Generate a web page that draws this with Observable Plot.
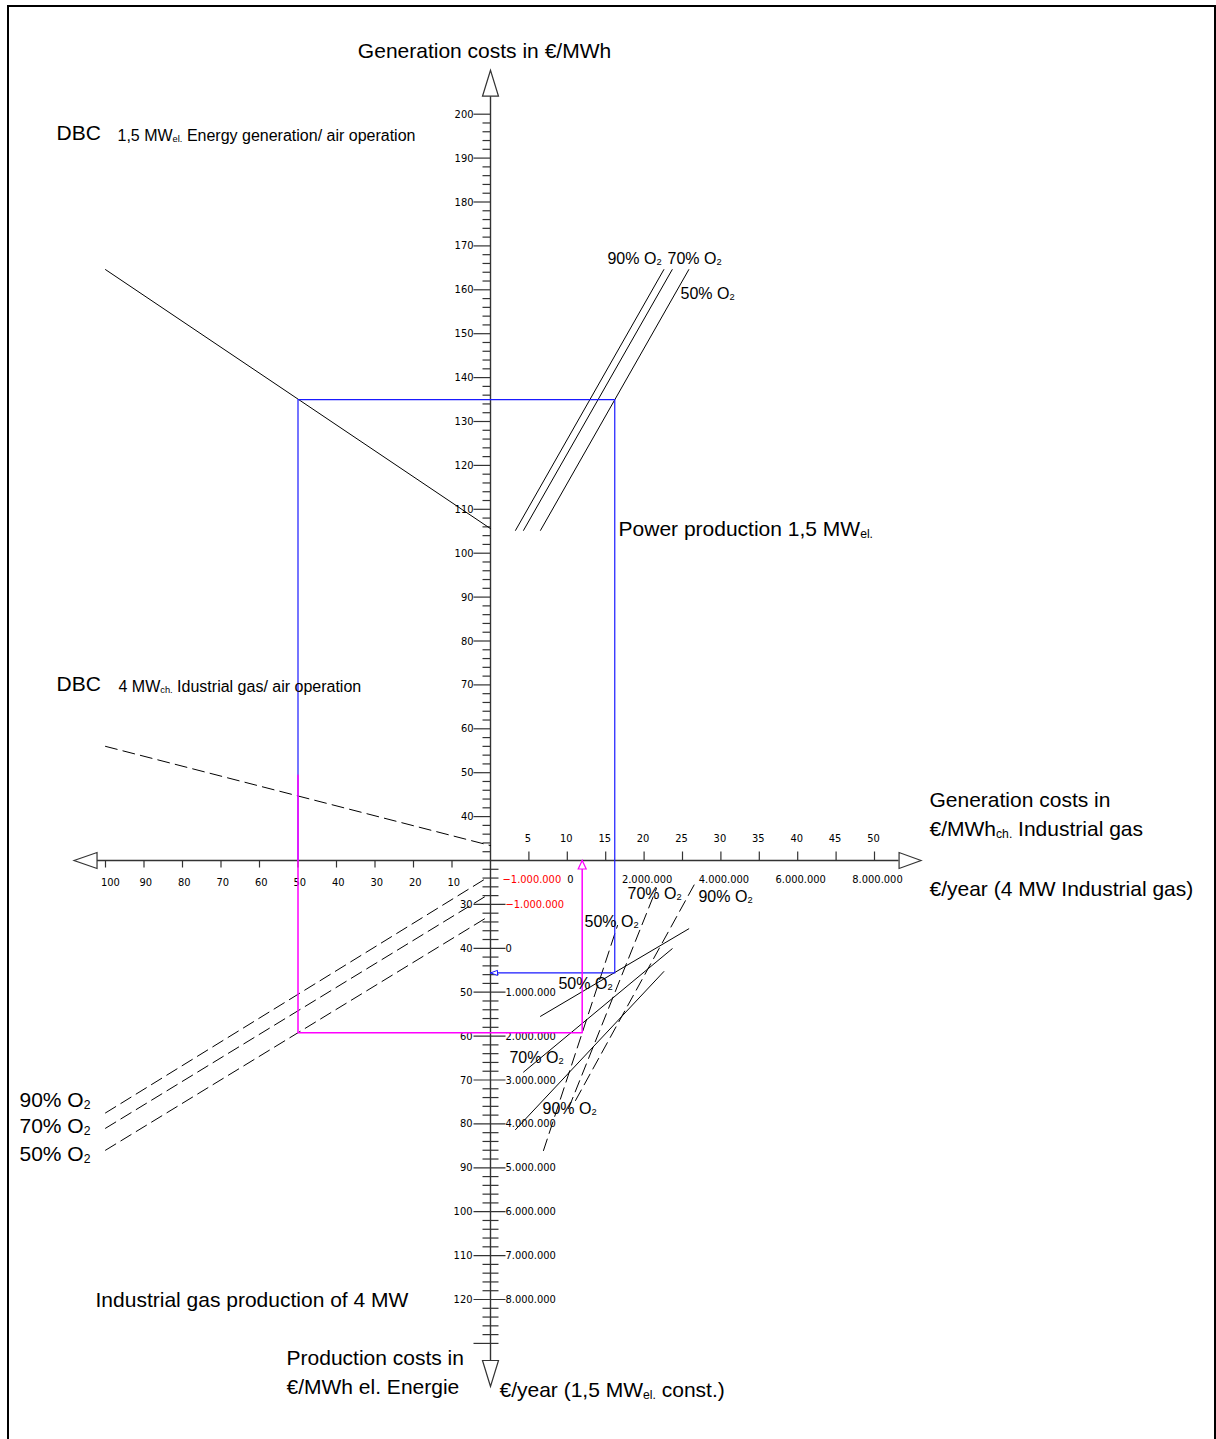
<!DOCTYPE html>
<html>
<head>
<meta charset="utf-8">
<script src="https://cdn.jsdelivr.net/npm/d3@7"></script>
<script src="https://cdn.jsdelivr.net/npm/@observablehq/plot@0.6"></script>
<style>
html, body { margin: 0; padding: 0; background: #fff; overflow: hidden; }
#wrap { position: relative; width: 1216px; height: 1439px; overflow: hidden; }
#border { position: absolute; left: 7px; top: 5px; width: 1205px; height: 1480px; border: 2px solid #000; border-bottom: none; pointer-events: none; }
</style>
</head>
<body>
<div id="wrap"><div id="border"></div></div>
<script>
// ---------------- DATA ----------------
// Left horizontal axis (shared by upper-left and lower-left quadrants)
const leftAxisTicks = [10, 20, 30, 40, 50, 60, 70, 80, 90, 100];
// Right horizontal axis: generation costs in €/MWh ch. (industrial gas)
const gasCostTicks = [5, 10, 15, 20, 25, 30, 35, 40, 45, 50];
// €/year (4 MW industrial gas), million €
const gasYearLabels = [-1, 0, 2, 4, 6, 8];
// Upper vertical axis: generation costs in €/MWh
const genCostLabels = [40, 50, 60, 70, 80, 90, 100, 110, 120, 130, 140, 150, 160, 170, 180, 190, 200];
const genCostTicks = d3.range(32, 201, 2);
// Lower vertical axis: production costs in €/MWh el. energy
const prodCostLabels = [30, 40, 50, 60, 70, 80, 90, 100, 110, 120];
const prodCostTicks = d3.range(22, 131, 2);
// €/year (1,5 MW el. const.), million €
const powerYearLabels = [-1, 0, 1, 2, 3, 4, 5, 6, 7, 8];

// DBC lines (left axis value -> generation cost €/MWh)
const dbcPowerLeft = [100, 0];
const dbcPowerCost = [164.6, 105.6];
const dbcGasLeft = [100, 0];
const dbcGasCost = [56.0, 33.4];

const o2Levels = ["90% O2", "70% O2", "50% O2"];
// Upper right: gas cost (€/MWh ch.) vs generation cost (€/MWh)
const upperO2GasCost = [[3.26, 22.57], [4.3, 23.66], [6.51, 25.82]];
const upperO2GenCost = [[105.2, 164.6], [105.2, 164.6], [105.2, 164.6]];
// Lower right, solid (power): gas cost vs production cost
const lowerSolidGasCost = [[3.26, 22.57], [4.3, 23.66], [6.51, 25.82]];
const lowerSolidProdCost = [[81.3, 45.3], [68.2, 40.1], [55.5, 35.56]];
// Lower right, dashed (industrial gas)
const lowerDashGasCost = [[11.07, 26.69], [10.16, 21.61], [6.9, 16.54]];
const lowerDashProdCost = [[74.67, 25.0], [76.5, 26.38], [86.06, 34.8]];
// Lower left, dashed: left axis value vs production cost
const lowerLeftLeft = [[100, 1], [100, 1], [100, 1]];
const lowerLeftProdCost = [[77.5, 24], [81, 28], [86, 33]];

// Example reading paths
const bluePath = { left: 50, genCost: 135, gasCost: 16.18, prodCost: 45.6 };
const magentaPath = { left: 50, genCost: 49.4, prodCost: 59.25, gasCost: 11.94 };

// ---------------- FRAME / TRANSFORMS ----------------
const W = 1216, H = 1439;
const origin = [490, 860];         // where the two main axes cross
const pxPerX = 7.68, pxPerY = 4.39; // unit sizes of the right and upper scales
const axisY = 30;                   // upper-scale value at the horizontal axis
const xDomain = [-origin[0] / pxPerX, (W - origin[0]) / pxPerX];
const yDomain = [axisY - (H - origin[1]) / pxPerY, axisY + origin[1] / pxPerY];

const leftToX = L => -L * 3.85 / pxPerX;
const lowerToY = w => 50 - w;
const powerEuroToLower = v => 40 + 10 * v;
const gasEuroToX = v => 10 + 5 * v;
const euro = v => v === 0 ? "0" : d3.format(",.0f")(v * 1e6).replace(/,/g, ".");

// ---------------- LINES ----------------
const solidLines = [], dashedLines = [];
const pushSeg = (arr, id, xs, ys) => xs.forEach((x, i) => arr.push({ id, x, y: ys[i] }));
pushSeg(solidLines, "dbcPower", dbcPowerLeft.map(leftToX), dbcPowerCost);
pushSeg(dashedLines, "dbcGas", dbcGasLeft.map(leftToX), dbcGasCost);
o2Levels.forEach((o, k) => {
  pushSeg(solidLines, "ur" + o, upperO2GasCost[k], upperO2GenCost[k]);
  pushSeg(solidLines, "lr" + o, lowerSolidGasCost[k], lowerSolidProdCost[k].map(lowerToY));
  pushSeg(dashedLines, "lrd" + o, lowerDashGasCost[k], lowerDashProdCost[k].map(lowerToY));
  pushSeg(dashedLines, "ll" + o, lowerLeftLeft[k].map(leftToX), lowerLeftProdCost[k].map(lowerToY));
});
const blueLine = [
  { x: leftToX(bluePath.left), y: axisY },
  { x: leftToX(bluePath.left), y: bluePath.genCost },
  { x: bluePath.gasCost, y: bluePath.genCost },
  { x: bluePath.gasCost, y: lowerToY(bluePath.prodCost) },
  { x: 0, y: lowerToY(bluePath.prodCost) }
];
const magentaLine = [
  { x: leftToX(magentaPath.left), y: magentaPath.genCost },
  { x: leftToX(magentaPath.left), y: lowerToY(magentaPath.prodCost) },
  { x: magentaPath.gasCost, y: lowerToY(magentaPath.prodCost) },
  { x: magentaPath.gasCost, y: axisY }
];

// ---------------- SYMBOLS (pixel shapes) ----------------
const seg = (...segs) => ({ draw(ctx) { for (const [a, b, c, d] of segs) { ctx.moveTo(a, b); ctx.lineTo(c, d); } } });
const tri = (p) => ({ draw(ctx) { ctx.moveTo(p[0], p[1]); ctx.lineTo(p[2], p[3]); ctx.lineTo(p[4], p[5]); ctx.closePath(); } });
const axisColor = "#333";
const tickFont = "'DejaVu Sans Condensed', 'Liberation Sans Narrow', 'DejaVu Sans', sans-serif";
const labelFont = "'Liberation Sans', Arial, sans-serif";

// ---------------- ANNOTATIONS ----------------
const titleLabels = [
  { t: "Generation costs in €/MWh", x: -0.78, y: 214.28 }
];
const bigLabels = [
  { t: "DBC", x: -56.51, y: 195.6 },
  { t: "DBC", x: -56.51, y: 70.09 },
  { t: "Power production 1,5 MW_{el.}", x: 16.67, y: 105.4 },
  { t: "Generation costs in", x: 57.16, y: 43.67 },
  { t: "€/MWh_{ch.} Industrial gas", x: 57.16, y: 37.06 },
  { t: "€/year (4 MW Industrial gas)", x: 57.16, y: 23.39 },
  { t: "90% O_{2}", x: -61.33, y: -24.67 },
  { t: "70% O_{2}", x: -61.33, y: -30.59 },
  { t: "50% O_{2}", x: -61.33, y: -36.97 },
  { t: "Industrial gas production of 4 MW", x: -51.43, y: -70.23 },
  { t: "Production costs in", x: -26.56, y: -83.44 },
  { t: "€/MWh el. Energie", x: -26.56, y: -90.05 },
  { t: "€/year (1,5 MW_{el.} const.)", x: 1.17, y: -90.73 }
];
const smallLabels = [
  { t: "1,5 MW_{el.} Energy generation/ air operation", x: -48.57, y: 195.15 },
  { t: "4 MW_{ch.} Idustrial gas/ air operation", x: -48.44, y: 69.64 },
  { t: "90% O_{2}", x: 15.23, y: 167.13 },
  { t: "70% O_{2}", x: 23.05, y: 167.13 },
  { t: "50% O_{2}", x: 24.74, y: 159.16 },
  { t: "70% O_{2}", x: 17.84, y: 22.48 },
  { t: "90% O_{2}", x: 27.08, y: 21.8 },
  { t: "50% O_{2}", x: 12.24, y: 16.1 },
  { t: "50% O_{2}", x: 8.85, y: 1.98 },
  { t: "70% O_{2}", x: 2.47, y: -14.87 },
  { t: "90% O_{2}", x: 6.77, y: -26.49 }
];

// ---------------- PLOT ----------------
const chart = Plot.plot({
  width: W, height: H,
  marginTop: 0, marginRight: 0, marginBottom: 0, marginLeft: 0,
  x: { domain: xDomain, range: [0, W], axis: null },
  y: { domain: yDomain, range: [H, 0], axis: null },
  style: { background: "white", overflow: "visible" },
  marks: [
    // axis lines
    Plot.ruleX([0], { y1: lowerToY(133.9), y2: 204.1, stroke: axisColor, strokeWidth: 1.4 }),
    Plot.ruleY([axisY], { x1: leftToX(102.2), x2: 53.2, stroke: axisColor, strokeWidth: 1.4 }),
    // upper vertical ticks
    Plot.dot(genCostTicks, { x: () => 0, y: d => d, symbol: d => d % 10 === 0 ? "maj" : "min", stroke: axisColor, fill: "none", strokeWidth: 1.2 }),
    // lower vertical ticks
    Plot.dot(prodCostTicks, { x: () => 0, y: d => lowerToY(d), symbol: d => d === 130 ? "end" : d % 10 === 0 ? "lmaj" : "lmin", stroke: axisColor, fill: "none", strokeWidth: 1.2 }),
    // horizontal ticks
    Plot.dot(leftAxisTicks, { x: d => leftToX(d), y: () => axisY, symbol: () => "hdown", stroke: axisColor, fill: "none", strokeWidth: 1.2 }),
    Plot.dot(gasCostTicks, { x: d => d, y: () => axisY, symbol: () => "hup", stroke: axisColor, fill: "none", strokeWidth: 1.2 }),
    // tick labels
    Plot.text(genCostLabels, { x: () => 0, y: d => d, text: d => String(d), textAnchor: "end", dx: -17, fontSize: 11, fontFamily: tickFont, fill: "#000" }),
    Plot.text(prodCostLabels, { x: () => 0, y: d => lowerToY(d), text: d => String(d), textAnchor: "end", dx: -18, fontSize: 11, fontFamily: tickFont, fill: "#000" }),
    Plot.text(powerYearLabels, { x: () => 0, y: d => lowerToY(powerEuroToLower(d)), text: euro, textAnchor: "start", dx: 15, fontSize: 11, fontFamily: tickFont, fill: d => d < 0 ? "#f00" : "#000" }),
    Plot.text(leftAxisTicks, { x: d => leftToX(d), y: () => axisY, text: d => String(d), textAnchor: "start", dx: -4.5, dy: 22, fontSize: 11, fontFamily: tickFont, fill: "#000" }),
    Plot.text(gasCostTicks, { x: d => d, y: () => axisY, text: d => String(d), textAnchor: "middle", dx: -1, dy: -22, fontSize: 11, fontFamily: tickFont, fill: "#000" }),
    Plot.text(gasYearLabels, { x: d => gasEuroToX(d), y: () => axisY, text: euro, textAnchor: "middle", dx: 3, dy: 19, fontSize: 11, fontFamily: tickFont, fill: d => d < 0 ? "#f00" : "#000" }),
    // nomogram lines
    Plot.line(solidLines, { x: "x", y: "y", z: "id", stroke: "#000", strokeWidth: 1 }),
    Plot.line(dashedLines, { x: "x", y: "y", z: "id", stroke: "#000", strokeWidth: 1, strokeDasharray: "12,6" }),
    Plot.line(blueLine, { x: "x", y: "y", stroke: "#1a1aff", strokeWidth: 1.2 }),
    Plot.line(magentaLine, { x: "x", y: "y", stroke: "#ff00ff", strokeWidth: 1.5 }),
    // arrowheads
    Plot.dot([{ x: 0, y: 204.1 }], { x: "x", y: "y", symbol: () => "aup", fill: "white", stroke: axisColor, strokeWidth: 1.2 }),
    Plot.dot([{ x: 0, y: lowerToY(133.9) }], { x: "x", y: "y", symbol: () => "adown", fill: "white", stroke: axisColor, strokeWidth: 1.2 }),
    Plot.dot([{ x: leftToX(102.2), y: axisY }], { x: "x", y: "y", symbol: () => "aleft", fill: "white", stroke: axisColor, strokeWidth: 1.2 }),
    Plot.dot([{ x: 53.2, y: axisY }], { x: "x", y: "y", symbol: () => "aright", fill: "white", stroke: axisColor, strokeWidth: 1.2 }),
    Plot.dot([{ x: 0, y: lowerToY(bluePath.prodCost) }], { x: "x", y: "y", symbol: () => "bleft", fill: "white", stroke: "#1a1aff", strokeWidth: 1 }),
    Plot.dot([{ x: magentaPath.gasCost, y: axisY }], { x: "x", y: "y", symbol: () => "mup", fill: "white", stroke: "#ff00ff", strokeWidth: 1.2 }),
    // annotations
    Plot.text(titleLabels, { x: "x", y: "y", text: "t", textAnchor: "middle", fontSize: 21, fontFamily: labelFont, fill: "#000" }),
    Plot.text(bigLabels, { x: "x", y: "y", text: "t", textAnchor: "start", fontSize: 21, fontFamily: labelFont, fill: "#000" }),
    Plot.text(smallLabels, { x: "x", y: "y", text: "t", textAnchor: "start", fontSize: 16, fontFamily: labelFont, fill: "#000" })
  ],
  symbol: {
    domain: ["maj", "min", "lmaj", "lmin", "end", "hdown", "hup", "aup", "adown", "aleft", "aright", "bleft", "mup"],
    range: [
      seg([-17, 0, 0, 0]), seg([-8, 0, 0, 0]), seg([-17, 0, 15, 0]), seg([-8, 0, 8, 0]), seg([-17, 0, 8, 0]),
      seg([0, 0, 0, 7]), seg([0, 0, 0, -9]),
      tri([0, -26, -8, 0, 8, 0]), tri([0, 26, -8, 0, 8, 0]),
      tri([-23, 0, 0, -8, 0, 8]), tri([22, 0, 0, -8, 0, 8]),
      tri([0, 0, 7, -2.5, 7, 2.5]), tri([0, 0, -4, 8.5, 4, 8.5])
    ]
  }
});

const wrap = document.getElementById("wrap");
wrap.prepend(chart);

// subscripts as real tspans
const ns = "http://www.w3.org/2000/svg";
chart.querySelectorAll("text").forEach(t => {
  const s = t.textContent;
  if (!s.includes("_{")) return;
  const fs = parseFloat(getComputedStyle(t).fontSize) || 16;
  t.textContent = "";
  let shifted = false;
  for (const p of s.split(/(_\{[^}]*\})/).filter(Boolean)) {
    const ts = document.createElementNS(ns, "tspan");
    if (p.startsWith("_{")) {
      ts.textContent = p.slice(2, -1);
      ts.setAttribute("font-size", (fs * 0.58).toFixed(1));
      ts.setAttribute("dy", (fs * 0.08).toFixed(1));
      shifted = true;
    } else {
      ts.textContent = p;
      if (shifted) { ts.setAttribute("dy", (-fs * 0.08).toFixed(1)); shifted = false; }
    }
    t.appendChild(ts);
  }
});
</script>
</body>
</html>
